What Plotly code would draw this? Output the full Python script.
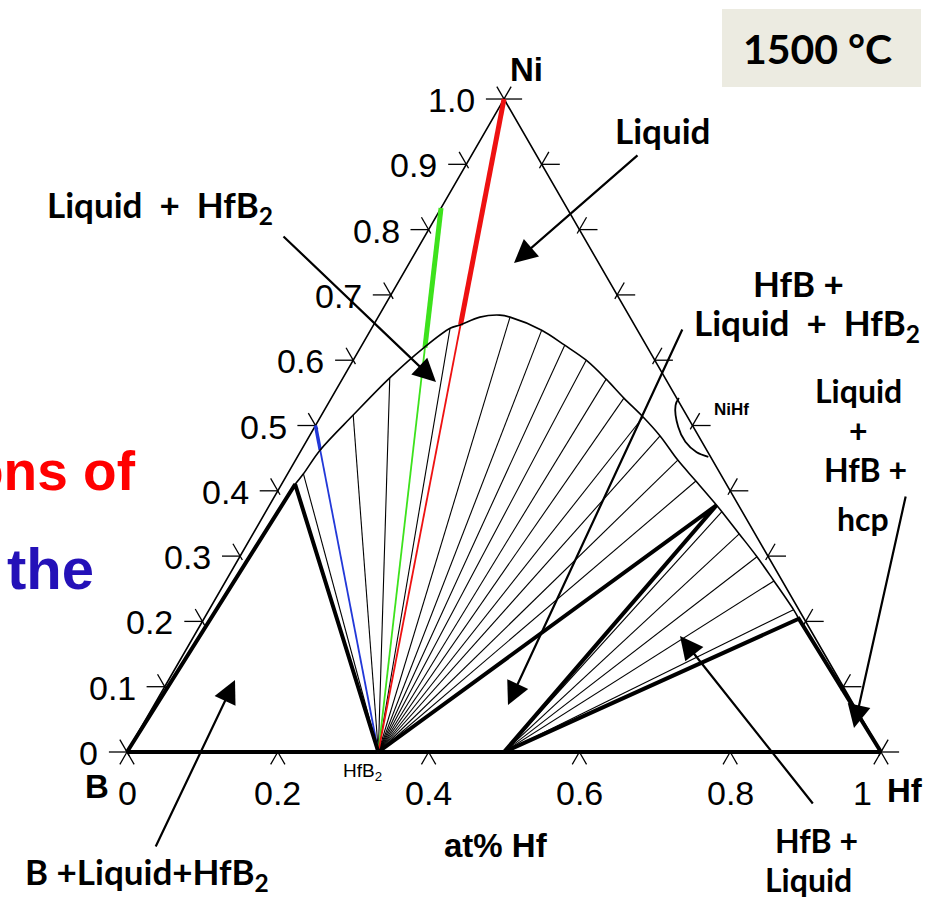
import numpy as np
import plotly.graph_objects as go

W, H = 942, 900
S3 = np.sqrt(3) / 2

# ---- compositions (atomic fraction Hf, atomic fraction Ni) ----
B_PT = (0.0, 0.0)
HF_PT = (1.0, 0.0)
NI_PT = (0.0, 1.0)
HFB2 = (1 / 3, 0.0)
HFB = (0.5, 0.0)

# liquidus boundary at 1500 C, from the B side to the Hf side
liq_hf = [0.018, 0.021, 0.025, 0.042, 0.062, 0.084, 0.104, 0.115, 0.135, 0.160,
          0.175, 0.227, 0.269, 0.309, 0.350, 0.388, 0.428, 0.465, 0.507, 0.547,
          0.593, 0.605, 0.645, 0.686, 0.727, 0.775, 0.789]
liq_ni = [0.410, 0.426, 0.4625, 0.516, 0.573, 0.619, 0.649, 0.654, 0.666, 0.669,
          0.666, 0.646, 0.623, 0.600, 0.571, 0.542, 0.513, 0.484, 0.447, 0.415,
          0.378, 0.368, 0.334, 0.299, 0.262, 0.218, 0.204]

# tie lines: indices into the liquidus
ties_hfb2 = [1, 3, 4, 6, 10, 11, 12, 13, 14, 15, 16, 17, 18, 19]
ties_hfb = [21, 22, 23, 24, 25]
L1, L2, L3 = 0, 20, 26

# sections from HfB2 to Ni-B compositions (Ni fraction at B-Ni edge, Ni at liquidus crossing)
sec_colors = ["#2238d8", "#3de21c", "#ee1111"]
sec_end_ni = [0.5, 0.833, 1.0]
sec_cross_ni = [0.4625, 0.619, 0.654]

# NiHf single-phase sliver near the Ni-Hf edge
nihf_hf = [0.461, 0.462, 0.482, 0.503, 0.526, 0.545]
nihf_ni = [0.542, 0.531, 0.498, 0.475, 0.459, 0.452]

tick_vals = [0.0, 0.1, 0.2, 0.3, 0.4, 0.5, 0.6, 0.7, 0.8, 0.9, 1.0]
left_labels = ["0", "0.1", "0.2", "0.3", "0.4", "0.5", "0.6", "0.7", "0.8", "0.9", "1.0"]
bottom_vals = [0.0, 0.2, 0.4, 0.6, 0.8]
bottom_labels = ["0", "0.2", "0.4", "0.6", "0.8"]


def xy(hf, ni):
    hf = np.asarray(hf, float)
    ni = np.asarray(ni, float)
    return hf + ni / 2, ni * S3


fig = go.Figure()


def seg(pts, color="black", width=1.2, shape="linear"):
    xs, ys = [], []
    for p in pts:
        if p is None:
            xs.append(None)
            ys.append(None)
        else:
            x, y = xy(p[0], p[1])
            xs.append(float(x))
            ys.append(float(y))
    fig.add_trace(go.Scatter(x=xs, y=ys, mode="lines", line=dict(color=color, width=width, shape=shape),
                             hoverinfo="skip", showlegend=False))


liq = list(zip(liq_hf, liq_ni))

# triangle edges
seg([B_PT, NI_PT, HF_PT], width=1.6)
seg([B_PT, HF_PT], width=4)

# ticks
d_out, d_sl, d_in = 0.024, 0.019, 0.006
tk = []
for v in tick_vals:
    # left edge (B-Ni): horizontal + constant-B direction
    tk += [(-d_out, v), (0, v), None]
    tk += [(-d_sl, v + d_sl), (d_in, v - d_in), None]
    # right edge (Ni-Hf): horizontal + constant-Hf direction
    tk += [(1 - v + d_out, v), (1 - v, v), None]
    tk += [(1 - v, v + d_sl), (1 - v, v - d_in), None]
for v in [0.0, 0.2, 0.4, 0.6, 0.8, 1.0]:
    tk += [(v, -d_sl), (v, 0), (v + d_sl, -d_sl), None]
seg(tk, width=1.3)

# thin tie lines
tl = []
for i in ties_hfb2:
    tl += [HFB2, liq[i], None]
for i in ties_hfb:
    tl += [HFB, liq[i], None]
seg(tl, width=1.1)

# coloured sections from HfB2
for c, e, cr in zip(sec_colors, sec_end_ni, sec_cross_ni):
    end = (0.0, e)
    seg([HFB2, end], color=c, width=1.8)
    t = cr / e
    cross = (HFB2[0] * (1 - t), cr)
    seg([cross, end], color=c, width=5 if c != sec_colors[0] else 3.5)

# liquidus
seg(liq, width=1.6, shape="spline")

# three-phase triangle edges
thick = [B_PT, liq[L1], HFB2, None, HFB2, liq[L2], HFB, None, HFB, liq[L3], HF_PT]
seg(thick, width=4)

# NiHf
seg(list(zip(nihf_hf, nihf_ni)), width=1.8, shape="spline")

ann = []


def text(px, py, s, size, family="Lato", weight="bold", color="black", xanchor="center",
         yanchor="middle"):
    ann.append(dict(x=px / W, y=1 - py / H, xref="paper", yref="paper", text=s, showarrow=False,
                    xanchor=xanchor, yanchor=yanchor,
                    font=dict(family=family, size=size, color=color, weight=weight)))


def arrow(tail, tip):
    ann.append(dict(x=tip[0] / W, y=1 - tip[1] / H, xref="paper", yref="paper", text="",
                    showarrow=True, ax=tail[0] - tip[0], ay=tail[1] - tip[1],
                    arrowhead=2, arrowsize=2.1, arrowwidth=2.2, arrowcolor="black"))


# tick labels
for v, lab in zip(tick_vals, left_labels):
    x, y = xy(0, v)
    px = 127 + 754 * x
    py = 752 - 754 * y
    text(px - 27, py + 1, lab, 34, family="Liberation Sans", weight="normal", xanchor="right")
for v, lab in zip(bottom_vals, bottom_labels):
    px = 127 + 754 * v
    text(px, 793, lab, 34, family="Liberation Sans", weight="normal")
text(862, 793, "1", 34, family="Liberation Sans", weight="normal")
text(885, 790, "Hf", 33, family="Liberation Sans", xanchor="left")
text(97, 786, "B", 33, family="Liberation Sans")
text(526, 70, "Ni", 33, family="Liberation Sans")
text(496, 845, "at% Hf", 33, family="Liberation Sans")
text(362, 772, "HfB<sub>2</sub>", 19, family="Liberation Sans", weight="normal")
text(712, 410, "NiHf", 17, family="Liberation Sans", xanchor="left")

# region labels
text(662, 130, "Liquid", 35)
text(160, 207, "Liquid  +  HfB<sub>2</sub>", 35)
text(798, 283, "HfB +", 35)
text(807, 324, "Liquid  +  HfB<sub>2</sub>", 35)
text(858, 391, "Liquid", 32)
text(858, 430, "+", 32)
text(865, 469, "HfB +", 32)
text(863, 518, "hcp", 32)
text(816, 840, "HfB +", 32)
text(808, 879, "Liquid", 32)
text(147, 873, "B +Liquid+HfB<sub>2</sub>", 35)

# temperature box
text(817, 48, "1500 °C", 41)

# slide text fragments
text(138, 471, "ons of", 55, family="Liberation Sans", color="#ff0000", xanchor="right")
text(5, 568, "the", 58, family="Liberation Sans", color="#2411b8", xanchor="left")

# arrows
arrow((639, 154), (514, 263))
arrow((282, 235), (436, 382))
arrow((683, 328), (508, 705))
arrow((906, 495), (854, 728))
arrow((814, 805), (680, 636))
arrow((155, 848), (235, 680))

fig.update_layout(
    width=W, height=H, autosize=False,
    margin=dict(l=0, r=0, t=0, b=0, pad=0),
    paper_bgcolor="white", plot_bgcolor="white",
    xaxis=dict(range=[-127 / 754, 815 / 754], visible=False, fixedrange=True),
    yaxis=dict(range=[-148 / 754, 752 / 754], visible=False, fixedrange=True),
    annotations=ann,
    shapes=[dict(type="rect", xref="paper", yref="paper", x0=722 / W, x1=921 / W,
                 y0=1 - 87 / H, y1=1 - 9 / H, fillcolor="#ecebe1", line=dict(width=0), layer="below")],
    showlegend=False,
)

fig.write_html("out.html")
